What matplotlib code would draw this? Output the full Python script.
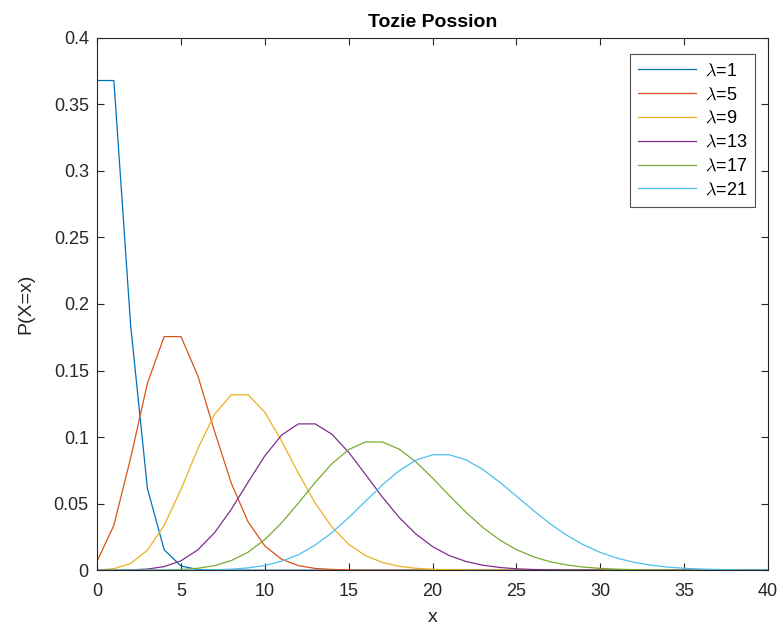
import numpy as np
import matplotlib
matplotlib.use('Agg')
from matplotlib import pyplot as plt

plt.rcParams['font.family'] = ['Liberation Sans', 'DejaVu Sans']
plt.rcParams['mathtext.fontset'] = 'cm'

# x 取值 0..40
x = np.arange(41)

# 各 lambda 下的概率值
p_l1 = [0.3679, 0.3679, 0.1839, 0.0613, 0.0153, 0.0031, 0.0005, 0.0001] + [0.0] * 33
p_l5 = [0.0067, 0.0337, 0.0842, 0.1404, 0.1755, 0.1755, 0.1462, 0.1044, 0.0653, 0.0363,
        0.0181, 0.0082, 0.0034, 0.0013, 0.0005, 0.0002] + [0.0] * 25
p_l9 = [0.0001, 0.0011, 0.0050, 0.0150, 0.0337, 0.0607, 0.0911, 0.1171, 0.1318, 0.1318,
        0.1186, 0.0970, 0.0728, 0.0504, 0.0324, 0.0194, 0.0109, 0.0058, 0.0029, 0.0014,
        0.0006, 0.0003, 0.0001] + [0.0] * 18
p_l13 = [0.0000, 0.0000, 0.0002, 0.0008, 0.0027, 0.0070, 0.0152, 0.0281, 0.0457, 0.0661,
         0.0859, 0.1015, 0.1099, 0.1099, 0.1021, 0.0885, 0.0719, 0.0550, 0.0397, 0.0272,
         0.0177, 0.0109, 0.0065, 0.0037, 0.0020, 0.0010, 0.0005, 0.0002, 0.0001, 0.0001] + [0.0] * 11
p_l17 = [0.0000, 0.0000, 0.0000, 0.0000, 0.0001, 0.0005, 0.0014, 0.0034, 0.0072, 0.0135,
         0.0230, 0.0356, 0.0504, 0.0659, 0.0800, 0.0906, 0.0963, 0.0963, 0.0910, 0.0814,
         0.0692, 0.0560, 0.0433, 0.0320, 0.0227, 0.0154, 0.0101, 0.0063, 0.0039, 0.0023,
         0.0013, 0.0007, 0.0004, 0.0002, 0.0001, 0.0000, 0.0000, 0.0000, 0.0000, 0.0000, 0.0000]
p_l21 = [0.0000, 0.0000, 0.0000, 0.0000, 0.0000, 0.0000, 0.0001, 0.0003, 0.0007, 0.0017,
         0.0035, 0.0067, 0.0116, 0.0188, 0.0282, 0.0395, 0.0518, 0.0640, 0.0747, 0.0826,
         0.0867, 0.0867, 0.0828, 0.0756, 0.0661, 0.0556, 0.0449, 0.0349, 0.0262, 0.0190,
         0.0133, 0.0090, 0.0059, 0.0038, 0.0023, 0.0014, 0.0008, 0.0005, 0.0003, 0.0001, 0.0001]

lambdas = [1, 5, 9, 13, 17, 21]
series = [p_l1, p_l5, p_l9, p_l13, p_l17, p_l21]

# MATLAB 默认配色
colors = [(0, 0.447, 0.741), (0.85, 0.325, 0.098), (0.929, 0.694, 0.125),
          (0.494, 0.184, 0.556), (0.466, 0.674, 0.188), (0.301, 0.745, 0.933)]

fig = plt.figure(figsize=(7.83, 6.3), dpi=100)
ax = fig.add_axes([0.124, 0.095, 0.857, 0.845])

for lam, p, c in zip(lambdas, series, colors):
    ax.plot(x, p, color=c, lw=0.9, label=r'$\lambda$=%d' % lam)

ax.set_xlim(0, 40)
ax.set_ylim(0, 0.4)
ax.set_xticks(range(0, 41, 5))
yt = np.arange(0, 0.401, 0.05)
ax.set_yticks(yt)
ax.set_yticklabels(['0', '0.05', '0.1', '0.15', '0.2', '0.25', '0.3', '0.35', '0.4'])

axc = (0.15, 0.15, 0.15)
for s in ax.spines.values():
    s.set_color(axc)
    s.set_linewidth(0.8)
ax.tick_params(direction='in', length=5, width=0.8, colors=axc, labelsize=13,
               top=True, right=True)
ax.tick_params(axis='x', pad=9)
ax.tick_params(axis='y', pad=6)

ax.set_xlabel('x', fontsize=14, color=axc, labelpad=7)
ax.set_ylabel('P(X=x)', fontsize=14, color=axc, labelpad=14)
ax.set_title('Tozie Possion', fontsize=14, fontweight='bold', pad=8)

leg = ax.legend(loc='upper right', fontsize=13, handlelength=3.2, frameon=True,
                fancybox=False, bbox_to_anchor=(0.9805, 0.969), borderaxespad=0,
                labelspacing=0.38, handletextpad=0.5, borderpad=0.45)
leg.get_frame().set_edgecolor(axc)
leg.get_frame().set_linewidth(0.8)

fig.savefig('out.png', dpi=100)
